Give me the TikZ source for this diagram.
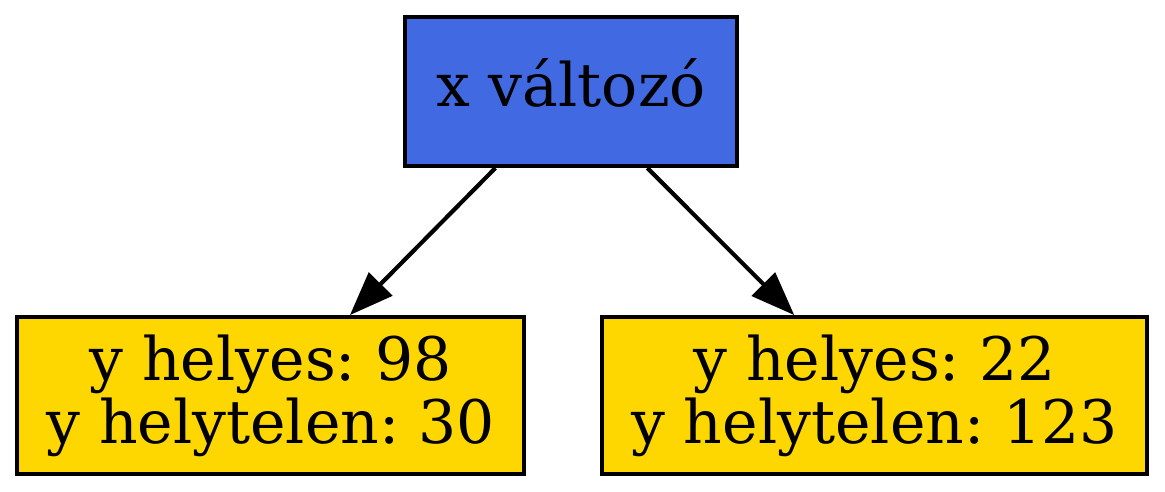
\documentclass[tikz,border=0pt]{standalone}
\usepackage{fontspec}
\setmainfont{DejaVu Serif}
\usetikzlibrary{arrows.meta}
\definecolor{royalblue}{HTML}{4169E1}
\definecolor{gold}{HTML}{FFD700}
\frenchspacing
\begin{document}
\begin{tikzpicture}[
    box/.style={draw=black, line width=1pt, rectangle, inner sep=0pt, align=center,
      font=\fontsize{14.4}{15.1}\selectfont},
    edge/.style={line width=1pt, -{Triangle[length=10.5pt,width=7.8pt]}}]
      \useasboundingbox (0,0) rectangle (279.6pt,118.08pt);
      \node[box, fill=royalblue, minimum width=79.6pt, minimum height=35.7pt,
        text height=10pt, text depth=2.6pt] (x) at (137.04pt,96.12pt) {x változó};
      \node[box, fill=gold, minimum width=121.6pt, minimum height=37.6pt] (yleft) at (64.92pt,23.16pt) {y helyes: 98\\y helytelen: 30};
      \node[box, fill=gold, minimum width=130.8pt, minimum height=37.6pt] (yright) at (209.88pt,23.16pt) {y helyes: 22\\y helytelen: 123};
      \draw[edge] (x) -- (yleft);
      \draw[edge] (x) -- (yright);
\end{tikzpicture}
\end{document}
